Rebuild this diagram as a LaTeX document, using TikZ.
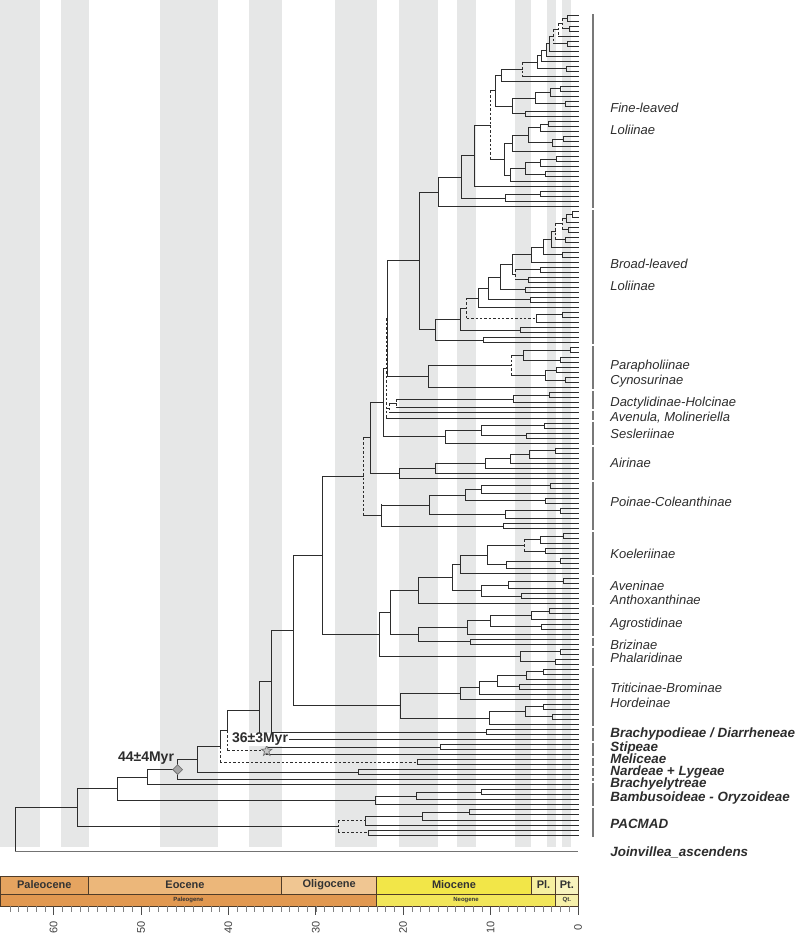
\documentclass[tikz,border=0pt]{standalone}
\usepackage{fontspec}
\setmainfont{Liberation Sans}
\usetikzlibrary{shapes.geometric}

\definecolor{stripe}{RGB}{230,231,231}
\definecolor{branch}{RGB}{45,45,45}
\definecolor{barcol}{RGB}{120,120,120}
\definecolor{labcol}{RGB}{45,45,45}
\definecolor{paleocene}{RGB}{229,164,96}
\definecolor{eocene}{RGB}{236,183,122}
\definecolor{oligocene}{RGB}{240,198,146}
\definecolor{miocene}{RGB}{242,230,72}
\definecolor{pliocene}{RGB}{246,240,160}
\definecolor{pleisto}{RGB}{248,243,190}
\definecolor{paleogene}{RGB}{225,152,80}
\definecolor{neogene}{RGB}{242,230,90}
\definecolor{quatern}{RGB}{247,240,170}
\definecolor{boxline}{RGB}{80,60,40}

\tikzset{every picture/.style={line width=0.75pt}}
\tikzset{
  br/.style={draw=branch, line width=1pt, line cap=rect},
  brdash/.style={draw=branch, line width=1pt, dash pattern=on 2.4pt off 2pt},
  cbar/.style={draw=barcol, line width=2.6pt},
  clade/.style={anchor=west, inner sep=0pt, text=labcol, font=\fontsize{13}{15}\selectfont\itshape},
  tribe/.style={clade, text height=9pt, text depth=1.5pt, font=\fontsize{13.4}{15}\selectfont\bfseries\itshape},
  agetag/.style={inner sep=0.6pt, text=labcol, font=\fontsize{14}{16}\selectfont\bfseries},
  epochbox/.style={draw=boxline, line width=0.6pt},
  epochname/.style={font=\fontsize{11}{13}\selectfont\bfseries, text=black!80},
  periodname/.style={font=\fontsize{6}{7}\selectfont\bfseries, text=black!80},
}

\begin{document}
\begin{tikzpicture}[x=1pt,y=1pt,yscale=-1,xscale=1]
\useasboundingbox (0,0) rectangle (796,939);

%Stripes (stages)
\foreach \xa/\xb in {0/39.6, 60.6/88.6, 160.2/217.9, 248.5/281.7, 334.8/376.7, 399.4/438.4, 457.2/476.4, 514.7/531.4, 546.5/555.5, 562.3/571.2}
  \fill[stripe] (\xa,0) rectangle (\xb,847);

%Tree: x in pixels, y in tip rows
\begin{scope}[shift={(0,16)}, y=5.025pt]
% cherries: node x / parent x / first tip
\foreach \x/\p/\k in {567/562/0, 569/562/2, 567/553/5, 566/537/10, 560/550/14, 565/535/17, 525/512.7/19, 548/540/21, 563/552/24, 556/540/28, 545/525/31, 540/505/35,
  572/566/39, 568/562/42, 565/555/44, 562/543.3/47, 540/515/50, 528/515/52, 525/500/54, 530/488.3/56, 562.3/536.7/59, 520/460/62, 483.3/435.7/64,
  570/523.3/66, 560/523.3/68, 556.7/545/70, 565/545/72, 549.3/513.3/75, 544.3/481.7/81, 526.7/481.7/83, 555/529/86,
  550/481/93, 545/465/96, 560/505.7/98, 503.3/381/101, 563.3/540/103, 545/524/106, 560/506.7/108, 563.3/508.3/112, 521.7/481.7/115,
  549.3/531.7/118, 541.7/490/121, 470/418.3/124, 560/520/126, 555/520/128, 543.3/526/130, 519.3/497.7/133, 543.3/525.7/137, 552.7/525.7/139,
  486/271.7/142, 440/266.7/145, 358.3/197.3/150, 481.7/416.7/154, 469.3/422.7/158}
  \draw[br] (\p,{\k+0.5}) -- (\x,{\k+0.5}) (578,\k) -- (\x,\k) -- (\x,{\k+1}) -- (578,{\k+1});

% single tips: parent x / tip
\foreach \p/\k in {558/4, 549/7, 546/8, 541/9, 522/12, 501.7/13, 550/16, 540/23, 552/26, 512/27, 540/30, 510/33, 474/34, 505/37, 438.3/38,
  566/41, 551.7/46, 531.7/49, 478.3/58, 536.7/61, 428.3/74, 513.3/77, 396.7/78, 389.3/79, 386/80, 445.7/85,
  529/88, 510.7/89, 485/90, 435/91, 399.3/92, 481/95, 505.7/100, 540/105, 506.7/110, 460/111, 508.3/114, 418.3/117,
  531.7/120, 467.7/123, 526/132, 479.3/135, 460/136, 489/141, 259.3/144, 266.7/147, 177.7/152, 147/153, 416.7/156, 375/157, 422.7/160, 365/161}
  \draw[br] (\p,\k) -- (578,\k);

% inner nodes: x / parent x / upper child / lower child
\foreach \x/\p/\a/\b in {549/546/4.125/7, 546/541/5.5625/8, 541/537/6.78/9, 537/522/7.89/10.5, 501.7/495/10.6/13,
  550/535/14.5/16, 535/512.7/15.25/17.5, 512.7/495/16.375/19.5, 495/490/11.8/17.94,
  540/528/21.5/23, 552/528/24.5/26, 528/512/22.25/25.25, 512/504/23.75/27, 540/525/28.5/30, 525/510/29.25/31.5, 510/504/30.375/33, 504/490/25.375/31.69,
  474/461.7/21.7/34, 505/461.7/35.5/37, 461.7/438.3/27.85/36.25, 438.3/419/32.05/38,
  566/562/39.5/41, 551.7/543.3/42.94/46, 543.3/531.7/44.47/47.5, 531.7/512/45.985/49, 512/500/47.49/51.5, 500/488.3/49.5/54.5, 488.3/478.3/52/56.5, 478.3/466.7/54.25/58, 460/435.7/58.19/62.5, 435.7/419/60.345/64.5, 419/387.3/35.025/62.42,
  523.3/511.7/66.5/68.5, 545/511.7/70.5/72.5, 428.3/387.3/69.5/74, 387.3/386/48.72/71.75,
  513.3/396.7/75.5/77,
  481.7/445.7/81.5/83.5, 445.7/383.3/82.5/85, 383.3/370/70.12/83.75,
  529/510.7/86.5/88, 510.7/485/87.25/89, 485/435/88.125/90, 435/399.3/89.06/91, 399.3/370/90.03/92, 370/363.3/76.935/91.015,
  481/465/93.5/95, 465/429.3/94.25/96.5, 505.7/429.3/98.5/100, 429.3/381/95.375/99.25, 381/363.3/97.31/101.5,
  540/524/103.5/105, 506.7/487.7/108.5/110, 487.7/460/105.375/109.25, 460/452.7/107.31/111, 508.3/481.7/112.5/114, 481.7/452.7/113.25/115.5, 452.7/418.3/109.155/114.375, 418.3/390/111.765/117,
  531.7/490/118.5/120, 490/467.7/119.25/121.5, 467.7/418.3/120.375/123, 418.3/390/121.69/124.5, 390/379.3/114.38/123.09, 520/379.3/126.5/128.5, 379.3/322.7/118.735/127.5,
  526/497.7/130.5/132, 497.7/479.3/131.25/133.5, 479.3/460/132.375/135, 460/400/133.69/136, 525.7/489/137.5/139.5, 489/400/138.5/141, 400/293.3/134.845/139.75,
  322.7/293.3/91.69/123.12, 293.3/271.7/107.405/137.3, 271.7/259.3/122.35/142.5, 259.3/227.7/132.43/144,
  197.3/177.7/145.365/150.5, 177.7/147/147.93/152, 147/117.3/149.965/153, 117.3/77.7/151.48/156.125, 77.7/15/153.8/161.3125,
  416.7/375/154.5/156, 375/117.3/155.25/157, 422.7/365/158.5/160}
  \draw[br] (\p,{(\a+\b)/2}) -- (\x,{(\a+\b)/2}) (\x,\a) -- (\x,\b);

% weakly supported nodes: dashed upright
\foreach \x/\p/\a/\b in {562/558/0.5/2.5, 558/553/1.5/4, 553/549/2.75/5.5, 522/501.7/9.195/12, 490/474/14.87/28.53,
  562/555/40.25/42.5, 555/551.7/41.375/44.5, 515/512/50.5/52.5, 466.7/460/56.125/60.25,
  511.7/428.3/67.5/71.5, 386/383.3/60.235/80, 389.3/386/77.125/79, 396.7/389.3/76.25/78,
  363.3/322.7/83.975/99.41, 524/487.7/104.25/106.5, 338/77.7/160.125/162.5}
{
  \draw[br] (\p,{(\a+\b)/2}) -- (\x,{(\a+\b)/2});
  \draw[brdash] (\x,\a) -- (\x,\b);
}

% dashed stems
\foreach \x/\p/\a/\b in {266.7/227.7/145.5/147, 365/338/159.25/161, 536.7/466.7/59.5/61}
{
  \draw[brdash] (\p,{(\a+\b)/2}) -- (\x,{(\a+\b)/2});
  \draw[br] (\x,\a) -- (\x,\b);
}
\foreach \x/\p/\k in {417.7/220/148, 368/338/162}
{
  \draw[brdash] (\p,{\k+0.5}) -- (\x,{\k+0.5});
  \draw[br] (578,\k) -- (\x,\k) -- (\x,{\k+1}) -- (578,{\k+1});
}

% half dashed nodes
\draw[br] (197.3,145.365) -- (220,145.365) (220,142.23) -- (220,145.365);
\draw[brdash] (220,145.365) -- (220,148.5);
\draw[br] (220,142.23) -- (227.7,142.23) (227.7,138.215) -- (227.7,142.23);
\draw[brdash] (227.7,142.23) -- (227.7,146.25);

% root and outgroup
\draw[br] (15,157.556) -- (15,166.2);
\draw[draw=black!55, line width=1pt] (15,166.2) -- (578,166.2);

% calibration marks
\node[diamond, draw=black!55, fill=black!35, minimum size=10pt, inner sep=0pt] (calpoo) at (177.7,149.965) {};
\node[star, star points=5, star point ratio=2.4, draw=black!55, fill=black!22, minimum size=11pt, inner sep=0pt] (calsti) at (266.7,146.25) {};

% clade bars
\foreach \a/\b in {0/38, 39/65, 66/74, 75/78, 79/80, 81/85, 86/92, 93/102, 103/111, 112/117, 118/123, 124/125, 126/129, 130/141, 142/144, 145/147, 148/149, 150/151, 152/152, 153/157, 158/163}
  \draw[cbar] (593,{\a-0.3}) -- (593,{\b+0.3});
\end{scope}

% Text Node
\node[agetag] (age44) at (146,758) {44±4Myr};
% Text Node
\node[agetag, fill=white] (age36) at (260,739.5) {36±3Myr};

% clade names
\node[clade] (fl1) at (610,108) {Fine-leaved};
\node[clade] (fl2) at (610,130) {Loliinae};
\node[clade] (bl1) at (610,264) {Broad-leaved};
\node[clade] (bl2) at (610,286) {Loliinae};
\node[clade] (para) at (610,366) {Parapholiinae};
\node[clade] (cyno) at (610,381) {Cynosurinae};
\node[clade] (dact) at (610,403) {Dactylidinae-Holcinae};
\node[clade] (aven) at (610,418) {Avenula, Molineriella};
\node[clade] (sesl) at (610,434) {Sesleriinae};
\node[clade] (airi) at (610,463) {Airinae};
\node[clade] (poin) at (610,502) {Poinae-Coleanthinae};
\node[clade] (koel) at (610,554) {Koeleriinae};
\node[clade] (avni) at (610,586) {Aveninae};
\node[clade] (anth) at (610,600) {Anthoxanthinae};
\node[clade] (agro) at (610,624) {Agrostidinae};
\node[clade] (briz) at (610,645) {Brizinae};
\node[clade] (phal) at (610,658) {Phalaridinae};
\node[clade] (trit) at (610,688) {Triticinae-Brominae};
\node[clade] (hord) at (610,703) {Hordeinae};
\node[tribe] (brac) at (610,734) {Brachypodieae / Diarrheneae};
\node[tribe] (stip) at (610,748) {Stipeae};
\node[tribe] (meli) at (610,760) {Meliceae};
\node[tribe] (nard) at (610,772) {Nardeae + Lygeae};
\node[tribe] (bely) at (610,784) {Brachyelytreae};
\node[tribe] (bamb) at (610,798) {Bambusoideae - Oryzoideae};
\node[tribe] (pacm) at (610,825) {PACMAD};
\node[tribe] (join) at (610,853) {Joinvillea\_ascendens};

%Time scale
\draw[epochbox, fill=paleocene] (0,876) rectangle (88.6,894);
\draw[epochbox, fill=eocene] (88.6,876) rectangle (281.7,894);
\draw[epochbox, fill=oligocene] (281.7,876) rectangle (376.7,894);
\draw[epochbox, fill=miocene] (376.7,876) rectangle (531.4,894);
\draw[epochbox, fill=pliocene] (531.4,876) rectangle (555.5,894);
\draw[epochbox, fill=pleisto] (555.5,876) rectangle (578,894);
\draw[epochbox, fill=paleogene] (0,894) rectangle (376.7,906);
\draw[epochbox, fill=neogene] (376.7,894) rectangle (555.5,906);
\draw[epochbox, fill=quatern] (555.5,894) rectangle (578,906);
\node[epochname] (paleoc) at (44.3,885) {Paleocene};
\node[epochname] (eoc) at (185,885) {Eocene};
\node[epochname] (oligoc) at (329.2,885) {Oligocene};
\node[epochname] (mioc) at (454,885) {Miocene};
\node[epochname] (plio) at (543.5,885) {Pl.};
\node[epochname] (pleist) at (566.8,885) {Pt.};
\node[periodname] (paleog) at (188.4,900) {Paleogene};
\node[periodname] (neog) at (466,900) {Neogene};
\node[periodname] (quat) at (566.8,900) {Qt.};

% ticks
\foreach \t in {0,...,65}
  \draw[black!50, line width=0.6pt] ({578-8.74*\t},906) -- ({578-8.74*\t},912);
\foreach \t in {0,10,...,60}
{
  \draw[black!70, line width=0.8pt] ({578-8.74*\t},906) -- ({578-8.74*\t},915);
  \node[rotate=90, text=black!75, font=\fontsize{11}{13}\selectfont] at ({578-8.74*\t},927) {\t};
}

\end{tikzpicture}
\end{document}
